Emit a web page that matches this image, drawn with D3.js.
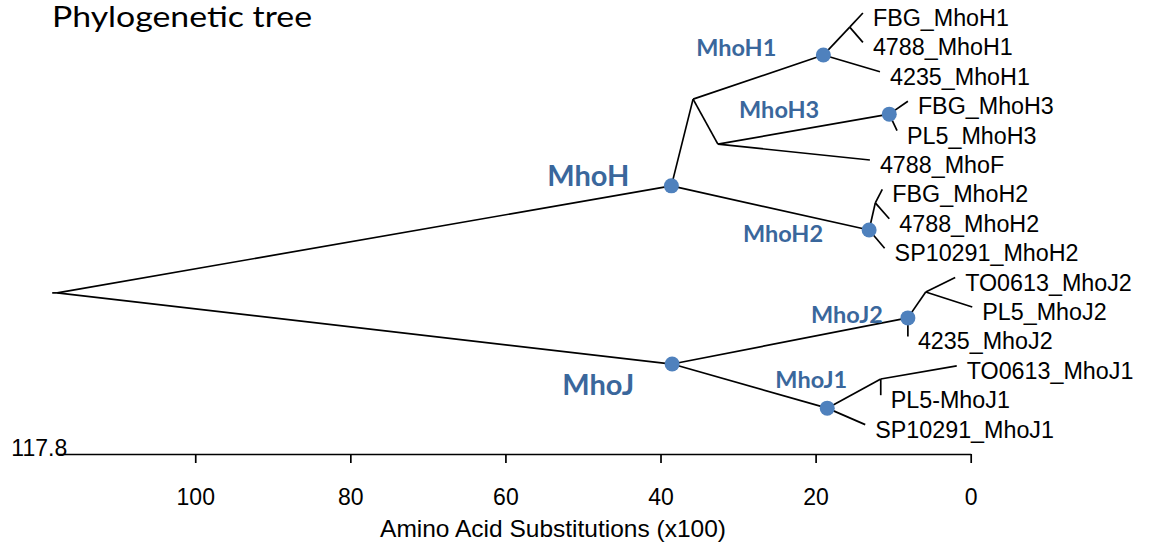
<!DOCTYPE html>
<html>
<head>
<meta charset="utf-8">
<script src="https://cdn.jsdelivr.net/npm/d3@7"></script>
<style>
  body { margin: 0; background: #fff; }
  svg { display: block; }
</style>
</head>
<body>
<svg id="chart" width="1152" height="542"></svg>
<script>
// tree nodes: id, parent, distance on the axis (x100 substitutions), vertical row
var nodeIds = ["root", "MhoH", "MhoJ", "H13", "MhoH1", "H1a", "FBG_MhoH1", "4788_MhoH1", "4235_MhoH1",
  "H3p", "MhoH3", "FBG_MhoH3", "PL5_MhoH3", "4788_MhoF", "MhoH2", "H2a", "FBG_MhoH2", "4788_MhoH2",
  "SP10291_MhoH2", "MhoJ2", "J2a", "TO0613_MhoJ2", "PL5_MhoJ2", "4235_MhoJ2", "MhoJ1", "J1a",
  "TO0613_MhoJ1", "PL5-MhoJ1", "SP10291_MhoJ1"];
var parentIds = ["", "root", "root", "MhoH", "H13", "MhoH1", "H1a", "H1a", "MhoH1",
  "H13", "H3p", "MhoH3", "MhoH3", "H3p", "MhoH", "MhoH2", "H2a", "H2a",
  "MhoH2", "MhoJ", "MhoJ2", "J2a", "J2a", "MhoJ2", "MhoJ", "MhoJ1",
  "J1a", "J1a", "MhoJ1"];
var distance = [117.8, 38.6, 38.5, 35.8, 19.0, 15.6, 13.9, 13.9, 11.7,
  32.6, 10.5, 8.1, 9.5, 13.0, 13.1, 12.3, 11.4, 10.5,
  11.1, 8.1, 5.8, 2.0, -0.2, 8.1, 18.5, 11.6,
  1.8, 11.6, 13.6];
var rows = [9.52, 5.88, 11.94, 2.93, 1.43, 0.48, 0, 1, 2,
  4.46, 3.44, 3, 4, 5, 7.38, 6.46, 6, 7,
  8, 10.37, 9.49, 9, 10, 11, 13.44, 12.45,
  12, 13, 14];
var cladeNames = ["MhoH", "MhoJ", "MhoH1", "MhoH3", "MhoH2", "MhoJ2", "MhoJ1"];
var tickValues = [100, 80, 60, 40, 20, 0];
var rootLabel = "117.8";

var svg = d3.select("#chart");

var x = d3.scaleLinear().domain([0, 117.8]).range([970.7, 57.2]);
var y = d3.scaleLinear().domain([0, 14]).range([13, 424.6]);

var table = nodeIds.map(function (id, i) {
  return { id: id, parent: parentIds[i] || null, dist: distance[i], row: rows[i] };
});
var root = d3.stratify().id(function (d) { return d.id; }).parentId(function (d) { return d.parent; })(table);

// title
svg.append("text")
  .attr("x", 52).attr("y", 27)
  .attr("font-family", "Lato, 'Open Sans', sans-serif")
  .attr("font-size", 28.5)
  .attr("textLength", 260).attr("lengthAdjust", "spacingAndGlyphs")
  .text("Phylogenetic tree");

// branches
svg.append("g").selectAll("line")
  .data(root.links())
  .enter().append("line")
  .attr("x1", function (d) { return x(d.source.data.dist); })
  .attr("y1", function (d) { return y(d.source.data.row); })
  .attr("x2", function (d) { return x(d.target.data.dist); })
  .attr("y2", function (d) { return y(d.target.data.row); })
  .attr("stroke", "#000").attr("stroke-width", 1.7);

// little stub at the root
svg.append("line")
  .attr("x1", x(root.data.dist) - 5).attr("x2", x(root.data.dist))
  .attr("y1", y(root.data.row)).attr("y2", y(root.data.row))
  .attr("stroke", "#000").attr("stroke-width", 1.7);

// leaf names
svg.append("g").selectAll("text")
  .data(root.leaves())
  .enter().append("text")
  .attr("x", function (d) { return x(d.data.dist) + 10; })
  .attr("y", function (d) { return y(d.data.row) + 13; })
  .attr("font-family", "'Liberation Sans', Arial, sans-serif")
  .attr("font-size", 23.3)
  .attr("fill", "#000")
  .text(function (d) { return d.data.id; });

// clade dots and labels
var labelPos = {
  MhoH: { dx: -42, dy: 0, size: 29 },
  MhoJ: { dx: -38, dy: 31, size: 29 },
  MhoH1: { dx: -47, dy: 1, size: 23.5 },
  MhoH3: { dx: -70, dy: 4, size: 23.5 },
  MhoH2: { dx: -46, dy: 12, size: 23.5 },
  MhoJ2: { dx: -25, dy: 5, size: 23.5 },
  MhoJ1: { dx: 20, dy: -20, size: 23.5 }
};
var clades = root.descendants().filter(function (d) { return cladeNames.indexOf(d.data.id) >= 0; });

svg.append("g").selectAll("circle")
  .data(clades)
  .enter().append("circle")
  .attr("cx", function (d) { return x(d.data.dist); })
  .attr("cy", function (d) { return y(d.data.row); })
  .attr("r", 7.5)
  .attr("fill", "#4F81BD");

svg.append("g").selectAll("text")
  .data(clades)
  .enter().append("text")
  .attr("x", function (d) { return x(d.data.dist) + labelPos[d.data.id].dx; })
  .attr("y", function (d) { return y(d.data.row) + labelPos[d.data.id].dy; })
  .attr("text-anchor", "end")
  .attr("font-family", "Lato, 'Open Sans', sans-serif")
  .attr("font-weight", "bold")
  .attr("font-size", function (d) { return labelPos[d.data.id].size; })
  .attr("fill", "#3A679C")
  .text(function (d) { return d.data.id; });

// axis
var axisY = 454;
var axis = d3.axisBottom(x).tickValues(tickValues).tickSize(9).tickSizeOuter(0).tickPadding(26);
var gAxis = svg.append("g")
  .attr("transform", "translate(0," + axisY + ")")
  .call(axis);
gAxis.select(".domain").attr("stroke", "#000").attr("stroke-width", 1.7);
gAxis.selectAll(".tick line").attr("stroke", "#000").attr("stroke-width", 1.7);
gAxis.selectAll(".tick text")
  .attr("font-family", "'Liberation Sans', Arial, sans-serif")
  .attr("font-size", 23)
  .attr("fill", "#000");

svg.append("text")
  .attr("x", x(root.data.dist) + 10).attr("y", axisY + 2)
  .attr("text-anchor", "end")
  .attr("font-family", "'Liberation Sans', Arial, sans-serif")
  .attr("font-size", 23)
  .text(rootLabel);

svg.append("text")
  .attr("x", 553).attr("y", 537)
  .attr("text-anchor", "middle")
  .attr("font-family", "'Liberation Sans', Arial, sans-serif")
  .attr("font-size", 24.5)
  .text("Amino Acid Substitutions (x100)");
</script>
</body>
</html>
